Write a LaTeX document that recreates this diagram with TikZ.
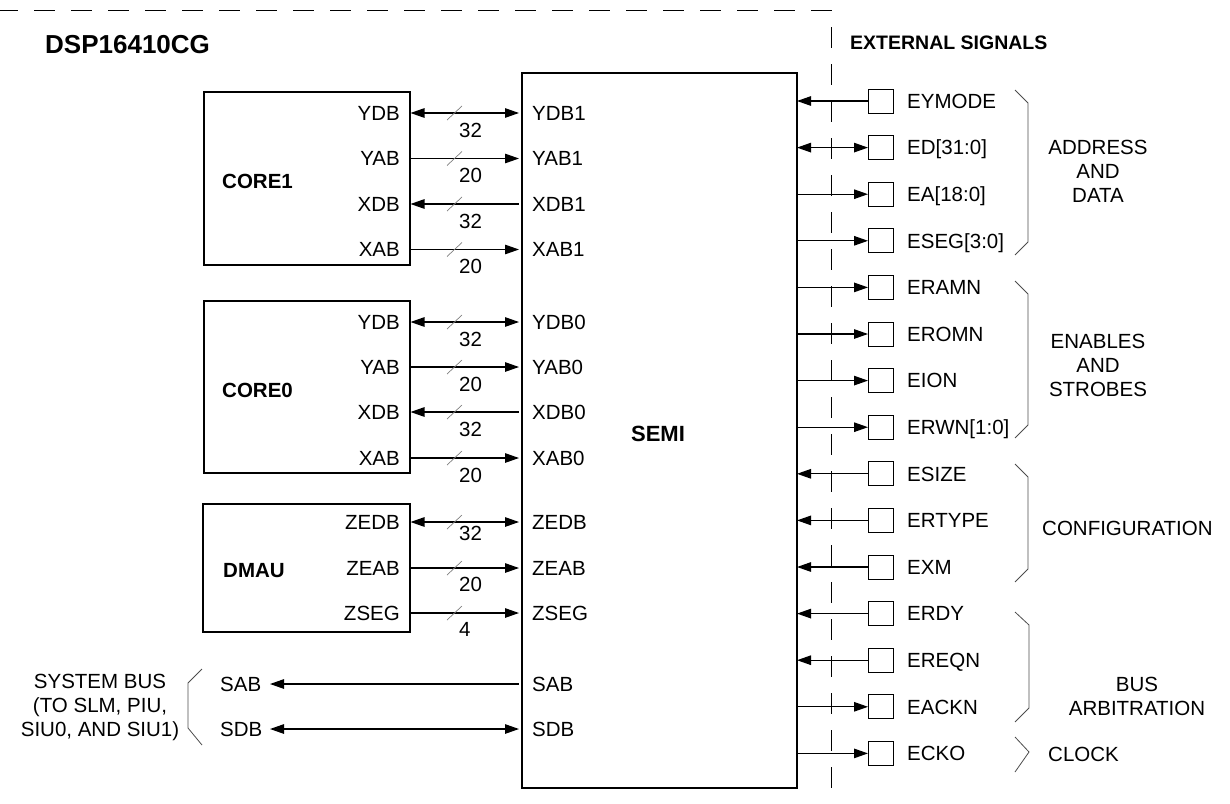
\documentclass[tikz,border=0pt]{standalone}
\usepackage{fontspec}
\setmainfont{Liberation Sans}
\usetikzlibrary{arrows.meta}
\begin{document}
\begin{tikzpicture}[x=1pt,y=-1pt,
  blk/.style={draw, line width=2.2pt, inner sep=0pt},
  lbl/.style={font=\fontsize{20.5}{24.5}\selectfont, inner sep=0pt, text height=14.7pt, text depth=0pt},
  mlbl/.style={font=\fontsize{20.5}{24}\selectfont, inner sep=0pt, align=center},
  blbl/.style={font=\bfseries\fontsize{20.5}{24}\selectfont, inner sep=0pt, text height=14.7pt, text depth=0pt},
  sig/.style={line width=1.2pt},
  arright/.style={sig, -{Triangle[length=14pt,width=9.5pt]}},
  arleft/.style={sig, {Triangle[length=14pt,width=9.5pt]}-},
  arboth/.style={sig, {Triangle[length=14pt,width=9.5pt]}-{Triangle[length=14pt,width=9.5pt]}},
  sin/.style={arleft}, sout/.style={arright}, sboth/.style={arboth},
  slash/.style={draw=black!50, line width=0.7pt},
  brace/.style={draw=black!70, line width=0.8pt},
  pin/.style={draw, line width=1pt, minimum width=25pt, minimum height=24pt, inner sep=0pt},
  border/.style={line width=0.9pt, dash pattern=on 21pt off 16pt}
]
\useasboundingbox (0,0) rectangle (1230,803);

% chip border
\draw[border] (-3,10) -- (831,10) -- (831,803);

% titles
\node[font=\bfseries\fontsize{26}{30}\selectfont, inner sep=0pt, anchor=west, text height=18.6pt, text depth=0pt] (title) at (45,44) {DSP16410CG};
\node[font=\bfseries\fontsize{19.5}{22}\selectfont, inner sep=0pt, anchor=west, text height=14pt, text depth=0pt] (ext) at (850,42) {EXTERNAL SIGNALS};

% blocks
\node[blk, minimum width=206pt, minimum height=173pt, anchor=north west] (core1) at (203,91) {};
\node[blk, minimum width=206pt, minimum height=172pt, anchor=north west] (core0) at (203,300) {};
\node[blk, minimum width=207pt, minimum height=128pt, anchor=north west] (dmau) at (202,503) {};
\node[blk, minimum width=275pt, minimum height=715pt, anchor=north west] (semi) at (521,72) {};

\node[blbl, anchor=west] (core1l) at (222,181) {CORE1};
\node[blbl, anchor=west] (core0l) at (222,390) {CORE0};
\node[blbl, anchor=west] (dmaul) at (223,570) {DMAU};
\node[font=\bfseries\fontsize{22}{26}\selectfont, inner sep=0pt, text height=15.8pt, text depth=0pt] (semil) at (658,434) {SEMI};

% left buses
\foreach \y/\cl/\sl/\w/\d/\o [count=\i] in {
  113/YDB/YDB1/32/arboth/17, 158.5/YAB/YAB1/20/arright/17, 204/XDB/XDB1/32/arleft/17, 249.5/XAB/XAB1/20/arright/17,
  322/YDB/YDB0/32/arboth/17, 367/YAB/YAB0/20/arright/17, 412/XDB/XDB0/32/arleft/17, 458/XAB/XAB0/20/arright/17,
  522/ZEDB/ZEDB/32/arboth/11, 568/ZEAB/ZEAB/20/arright/16, 613/ZSEG/ZSEG/4/arright/16}{
  \node[lbl, anchor=east] (cl\i) at (400,\y) {\cl};
  \node[lbl, anchor=west] (sl\i) at (532,\y) {\sl};
  \coordinate (a\i) at (410.5,\y);
  \coordinate (b\i) at (519,\y);
  \draw[\d] (a\i) -- (b\i);
  \draw[slash] (447,\y+7) -- (462,\y-7);
  \node[lbl, anchor=west] (w\i) at (459,\y+\o) {\w};
}

% system bus
\node[lbl, anchor=west] (sab) at (220,684) {SAB};
\node[lbl, anchor=west] (sdb) at (220,729) {SDB};
\node[lbl, anchor=west] (ssab) at (532,684) {SAB};
\node[lbl, anchor=west] (ssdb) at (532,729) {SDB};
\coordinate (sa1) at (270,684); \coordinate (sa2) at (519,684);
\coordinate (sd1) at (270,729); \coordinate (sd2) at (519,729);
\draw[arleft] (sa1) -- (sa2);
\draw[arboth] (sd1) -- (sd2);
\draw[brace] (202,669) -- (188,683) -- (188,728) -- (202,745);
\node[mlbl] (sys) at (100,707) {SYSTEM BUS\\(TO SLM, PIU,\\SIU0, AND SIU1)};

% external pins
\foreach \n/\d [count=\k from 0] in {EYMODE/sin, ED[31:0]/sboth, EA[18:0]/sout, ESEG[3:0]/sout,
  ERAMN/sout, EROMN/sout, EION/sout, ERWN[1:0]/sout,
  ESIZE/sin, ERTYPE/sin, EXM/sin,
  ERDY/sin, EREQN/sin, EACKN/sout, ECKO/sout}{
  \pgfmathsetmacro\yy{101+46.6*\k}
  \node[pin] (p\k) at (881,\yy) {};
  \node[lbl, anchor=west] (pl\k) at (907,\yy) {\n};
  \coordinate (s\k) at (797,\yy);
  \draw[\d] (s\k) -- (p\k.west);
}

% group braces
\draw[brace] (1015,90) -- (1028,103) -- (1028,242) -- (1015,255);
\draw[brace] (1015,281) -- (1028,294) -- (1028,425) -- (1015,438);
\draw[brace] (1015,464) -- (1028,477) -- (1028,569) -- (1015,582);
\draw[brace] (1015,612) -- (1029,625) -- (1029,708) -- (1015,722);
\draw[brace] (1015,737) -- (1029,752) -- (1015,772);

\node[mlbl] (g1) at (1098,171.5) {ADDRESS\\AND\\DATA};
\node[mlbl] (g2) at (1098,365) {ENABLES\\AND\\STROBES};
\node[lbl, anchor=west] (g3) at (1042,528) {CONFIGURATION};
\node[mlbl] (g4) at (1137,696) {BUS\\ARBITRATION};
\node[lbl, anchor=west] (g5) at (1048,754) {CLOCK};
\end{tikzpicture}
\end{document}
